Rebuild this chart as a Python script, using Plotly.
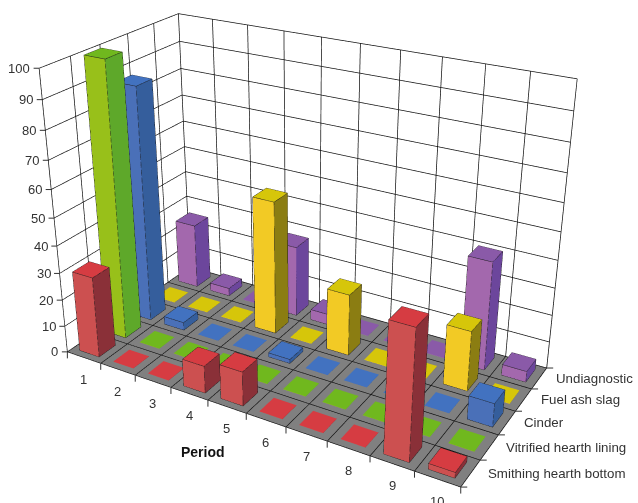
import plotly.graph_objects as go

periods = ["1", "2", "3", "4", "5", "6", "7", "8", "9", "10"]
smithing = [30, 0, 0, 10, 12.5, 0, 0, 0, 45.5, 2]
vitrified = [100, 0, 0, 0, 0, 0, 0, 0, 0, 0]
cinder = [87, 3, 0, 0, 1.5, 0, 0, 0, 0, 8.5]
fuel_ash = [0, 0, 0, 50, 0, 23, 0, 0, 22, 0]
undiagnostic = [25, 3, 0, 27, 4, 0, 0, 0, 40, 4]

series_names = ["Smithing hearth bottom", "Vitrified hearth lining", "Cinder",
                "Fuel ash slag", "Undiagnostic"]
series_values = [smithing, vitrified, cinder, fuel_ash, undiagnostic]
# front, side and top face colours of each series
series_colors = [
    ("#cc5050", "#8a3038", "#d63c42"),
    ("#98c01a", "#5ea82a", "#70b81e"),
    ("#4a70b8", "#355e9c", "#4272c0"),
    ("#f2ca25", "#8b7d12", "#d6c60a"),
    ("#a368ad", "#6c469c", "#8a5aa8"),
]
z_ticks = list(range(0, 101, 10))

HALF_X = 0.29    # half of a bar's footprint along the periods
HALF_Y = 0.3     # half of a bar's footprint along the series
MIN_H = 0.12     # empty categories still show as a flat tile on the floor
TEXT = "#333333"
FONT = "Liberation Sans"

fig = go.Figure()

for s, (vals, cols) in enumerate(zip(series_values, series_colors)):
    xs, ys, zs, ii, jj, kk, fc = [], [], [], [], [], [], []
    ex, ey, ez = [], [], []
    for p, v in enumerate(vals):
        h = max(v, MIN_H)
        x0, x1 = p + 0.5 - HALF_X, p + 0.5 + HALF_X
        y0, y1 = s + 0.5 - HALF_Y, s + 0.5 + HALF_Y
        n = len(xs)
        xs += [x0, x1, x1, x0, x0, x1, x1, x0]
        ys += [y0, y0, y1, y1, y0, y0, y1, y1]
        zs += [0, 0, 0, 0, h, h, h, h]
        # front, right side, top
        for a, b, c, col in ((0, 1, 5, cols[0]), (0, 5, 4, cols[0]),
                             (1, 2, 6, cols[1]), (1, 6, 5, cols[1]),
                             (4, 5, 6, cols[2]), (4, 6, 7, cols[2])):
            ii.append(n + a); jj.append(n + b); kk.append(n + c); fc.append(col)
        if v > 0:  # flat tiles carry no outline
            for a, b in ((0, 1), (1, 2), (0, 4), (1, 5), (2, 6),
                         (4, 5), (5, 6), (6, 7), (7, 4)):
                ex += [xs[n + a], xs[n + b], None]
                ey += [ys[n + a], ys[n + b], None]
                ez += [zs[n + a], zs[n + b], None]
    fig.add_trace(go.Mesh3d(
        x=xs, y=ys, z=zs, i=ii, j=jj, k=kk, facecolor=fc, flatshading=True,
        lighting=dict(ambient=1, diffuse=0, specular=0, fresnel=0, roughness=1),
        hoverinfo="skip", showscale=False, name=series_names[s]))
    fig.add_trace(go.Scatter3d(
        x=ex, y=ey, z=ez, mode="lines", line=dict(color="#1a1a1a", width=1),
        hoverinfo="skip", showlegend=False))

annotations = []


def tick(x, y, z, ax, ay):
    annotations.append(dict(x=x, y=y, z=z, text="", showarrow=True, arrowhead=0,
                            arrowwidth=1, arrowcolor=TEXT, ax=ax, ay=ay, standoff=0))


def label(x, y, z, text, xanchor, xshift, yshift, size=13, bold=False):
    annotations.append(dict(x=x, y=y, z=z, text=f"<b>{text}</b>" if bold else text,
                            showarrow=False, xanchor=xanchor, yanchor="middle",
                            xshift=xshift, yshift=yshift,
                            font=dict(family=FONT, size=size,
                                      color="#111111" if bold else TEXT)))


for z in z_ticks:
    tick(0, 0, z, -7, 0)
    label(0, 0, z, str(z), "right", -7, 0)
for i in range(len(periods) + 1):
    tick(i, 0, 0, 0, 8)
for i, name in enumerate(periods):
    label(i + 0.5, 0, 0, name, "center", 0, -22)
for i in range(len(series_names) + 1):
    tick(10, i, 0, 8, 0)
for i, name in enumerate(series_names):
    label(10, i + 0.5, 0, name, "left", 15, 0, size=13.3)
label(3.5, 0, 0, "Period", "center", 14, -58, size=14, bold=True)


def axis(vals, rng):
    return dict(range=rng, tickvals=vals, showticklabels=False, ticks="", title="",
                showgrid=True, gridcolor="#111111", gridwidth=1.5, zeroline=False,
                showspikes=False, showline=False, showbackground=False)


zaxis = axis(z_ticks, [0, 100])
zaxis.update(showbackground=True, backgroundcolor="#808080")

fig.update_layout(
    width=1000, height=964, margin=dict(l=0, r=0, t=0, b=0),
    paper_bgcolor="white", showlegend=False,
    scene=dict(
        domain=dict(x=[0, 1], y=[0, 1]),
        bgcolor="white",
        xaxis=axis(list(range(0, 11)), [0, 10]),
        yaxis=axis(list(range(0, 6)), [0, 5]),
        zaxis=zaxis,
        aspectmode="manual",
        aspectratio=dict(x=1, y=0.5003, z=0.696),
        camera=dict(
            eye=dict(x=1.1568, y=-2.0036, z=1.1009),
            center=dict(x=-0.0175, y=0.0152, z=0.0041),
            up=dict(x=0, y=0, z=1),
            projection=dict(type="perspective"),
        ),
        annotations=annotations,
    ),
)

# The long focal length needs a stage larger than the page, slid into place.
place = """
var gd = document.getElementById('{plot_id}');
gd.style.position = 'fixed';
gd.style.left = '-199px';
gd.style.top = '-263px';
document.body.style.overflow = 'hidden';
document.body.style.margin = '0';
"""
fig.write_html("out.html", post_script=place, default_width=1000, default_height=964,
               config=dict(displayModeBar=False))
